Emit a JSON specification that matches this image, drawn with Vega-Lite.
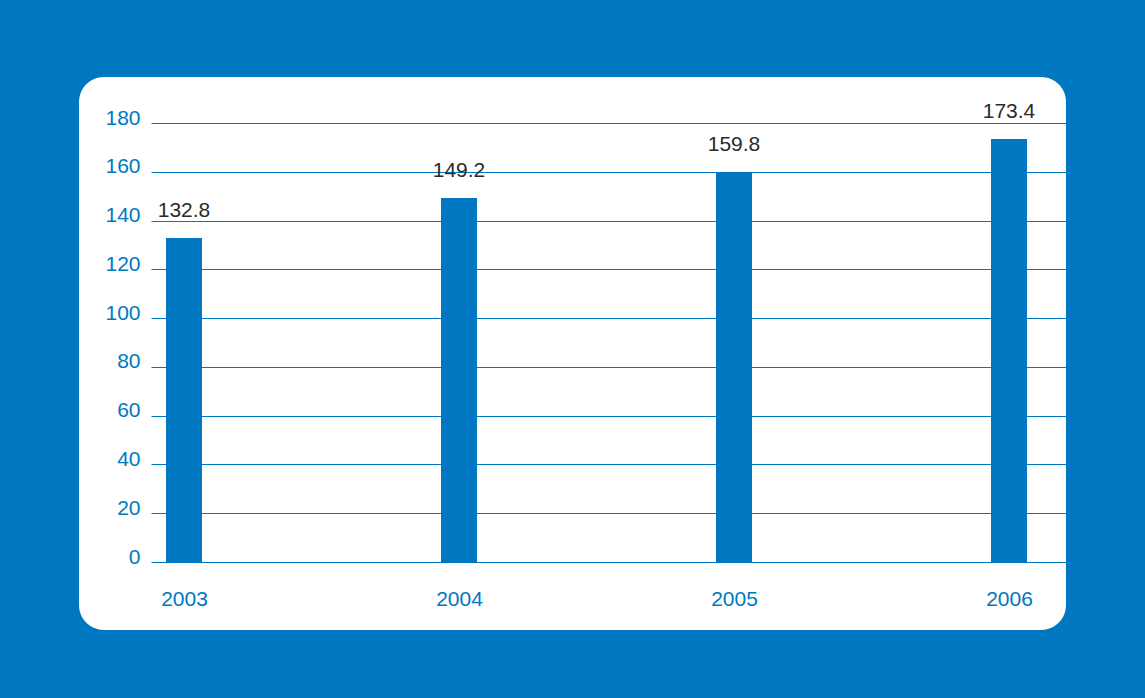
{
  "$schema": "https://vega.github.io/schema/vega-lite/v6.json",
  "width": 987,
  "height": 553,
  "autosize": {"type": "none"},
  "padding": {"left": 79, "top": 77, "right": 79, "bottom": 68},
  "background": "#0078C1",
  "config": {
    "view": {"fill": "white", "stroke": null, "cornerRadius": 25},
    "font": "Liberation Sans"
  },
  "data": {
    "values": [
      {"year": 2003, "value": 132.8},
      {"year": 2004, "value": 149.2},
      {"year": 2005, "value": 159.8},
      {"year": 2006, "value": 173.4}
    ]
  },
  "encoding": {
    "x": {
      "field": "year",
      "type": "quantitative",
      "scale": {"domain": [2002.88, 2006.2073], "range": [72, 987], "nice": false, "zero": false, "padding": 0},
      "axis": {
        "values": [2003, 2004, 2005, 2006],
        "format": "d",
        "grid": false,
        "domain": false,
        "ticks": false,
        "offset": -68,
        "labelPadding": 26,
        "labelColor": "#0078C1",
        "labelFontSize": 21,
        "labelFlush": false,
        "title": null
      }
    },
    "y": {
      "field": "value",
      "type": "quantitative",
      "scale": {"domain": [0, 180], "range": [485, 46], "nice": false, "padding": 0},
      "axis": {
        "values": [0, 20, 40, 60, 80, 100, 120, 140, 160, 180],
        "grid": true,
        "gridColor": "#0078C1",
        "gridWidth": 1,
        "gridOpacity": 1,
        "domain": false,
        "ticks": false,
        "offset": -72,
        "labelPadding": 11,
        "labelOffset": -5,
        "labelColor": "#0078C1",
        "labelFontSize": 21,
        "title": null
      }
    }
  },
  "layer": [
    {"mark": {"type": "bar", "size": 36, "color": "#0078C1"}},
    {
      "mark": {"type": "text", "dy": -17, "baseline": "bottom", "fontSize": 21, "color": "#2b2b2b"},
      "encoding": {"text": {"field": "value", "type": "quantitative", "format": ".1f"}}
    }
  ]
}
